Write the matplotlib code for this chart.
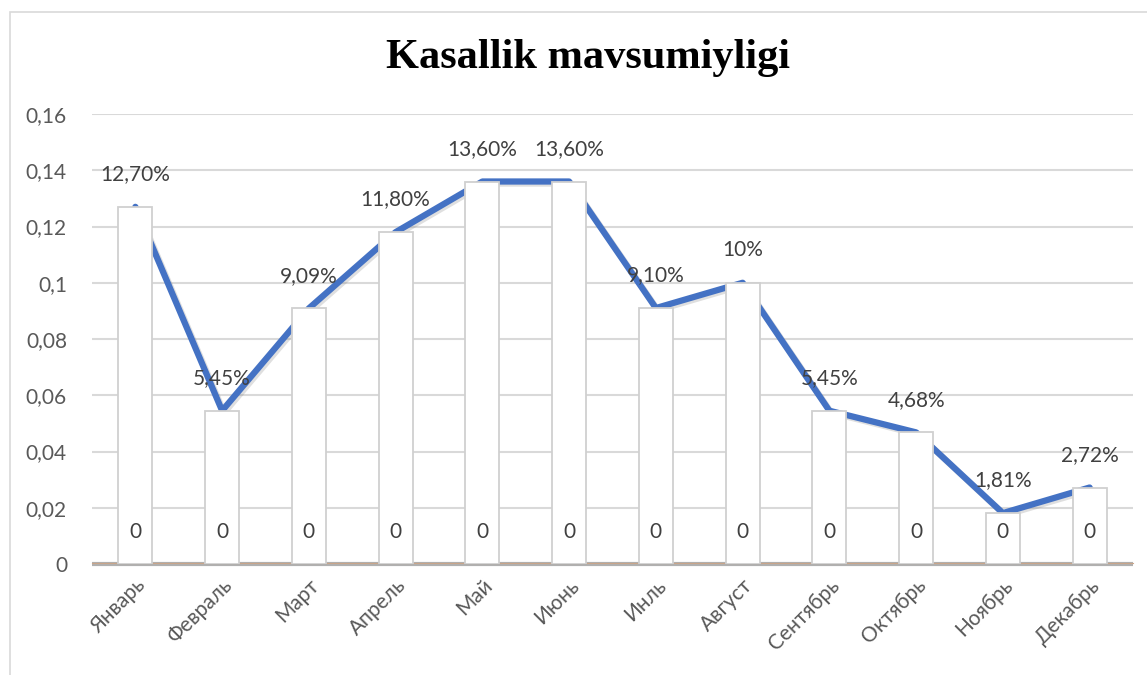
import matplotlib
matplotlib.use("Agg")
import matplotlib.pyplot as plt
from matplotlib.patches import Rectangle
import matplotlib.patheffects as pe

months = ["Январь", "Февраль", "Март", "Апрель", "Май", "Июнь", "Инль",
          "Август", "Сентябрь", "Октябрь", "Ноябрь", "Декабрь"]
values = [0.127, 0.0545, 0.0909, 0.118, 0.136, 0.136, 0.091, 0.10,
          0.0545, 0.0468, 0.0181, 0.0272]
value_labels = ["12,70%", "5,45%", "9,09%", "11,80%", "13,60%", "13,60%",
                "9,10%", "10%", "5,45%", "4,68%", "1,81%", "2,72%"]
zeros = [0] * 12
yticks = [0, 0.02, 0.04, 0.06, 0.08, 0.1, 0.12, 0.14, 0.16]
ytick_labels = ["0", "0,02", "0,04", "0,06", "0,08", "0,1", "0,12", "0,14", "0,16"]
title = "Kasallik mavsumiyligi"

plt.rcParams['font.family'] = ['Lato', 'DejaVu Sans']
gray_text = "#595959"
fs = 15

fig = plt.figure(figsize=(11.47, 6.75), dpi=100)
# outer chart frame
fig.patches.append(Rectangle((10 / 1147, -0.05), 1.1, 1 - 12 / 675 + 0.05,
                             transform=fig.transFigure, fill=False,
                             edgecolor="#D9D9D9", linewidth=1.2))

ax = fig.add_axes([92 / 1147, 1 - 564 / 675, (1133 - 92) / 1147, (564 - 114) / 675])
x = list(range(len(months)))

ax.set_xlim(-0.5, 11.5)
ax.set_ylim(0, 0.16)
ax.set_yticks(yticks)
ax.set_yticklabels(ytick_labels)
ax.yaxis.grid(True, color="#D9D9D9", linewidth=1.5, zorder=0)
ax.set_axisbelow(True)
for s in ax.spines.values():
    s.set_visible(False)
ax.tick_params(axis='both', length=0, labelsize=fs, labelcolor=gray_text)
ax.tick_params(axis='y', pad=18)

# zero series (drawn as baseline with shadow)
ax.plot([-0.5] + x + [11.5], [0] + zeros + [0], color="#B0B0B0", linewidth=3.0,
        solid_capstyle='butt', zorder=2, clip_on=False)
ax.plot([-0.5] + x + [11.5], [0.0005] + [z + 0.0005 for z in zeros] + [0.0005],
        color="#C9A58A", linewidth=0.8, zorder=2.1, clip_on=False)

# main line (behind bars)
ax.plot(x, values, color="#4472C4", linewidth=4.5, solid_capstyle='round',
        solid_joinstyle='round', zorder=3,
        path_effects=[pe.SimpleLineShadow(offset=(1.5, -1.5), alpha=0.25, shadow_color='gray'),
                      pe.Normal()])

# bars
ax.bar(x, values, width=0.39, color="white", edgecolor="#D0D0D0", linewidth=1.3, zorder=4)

for xi, v, lab in zip(x, values, value_labels):
    ax.annotate(lab, (xi, v), xytext=(0, 23.5), textcoords="offset points",
                ha="center", va="center", fontsize=fs, color="#404040", zorder=6)
for xi, z in zip(x, zeros):
    ax.annotate(str(z), (xi, z), xytext=(0, 23), textcoords="offset points",
                ha="center", va="center", fontsize=fs, color="#404040", zorder=6)

ax.set_xticks(x)
ax.set_xticklabels(months, rotation=45, ha="right", rotation_mode="anchor")
ax.tick_params(axis='x', pad=8)

fig.text(588 / 1147, 1 - 58 / 675, title, ha="center", va="center",
         fontsize=30.5, fontweight="bold", family=["Liberation Serif"], color="black")

fig.savefig("out.png", dpi=100)
